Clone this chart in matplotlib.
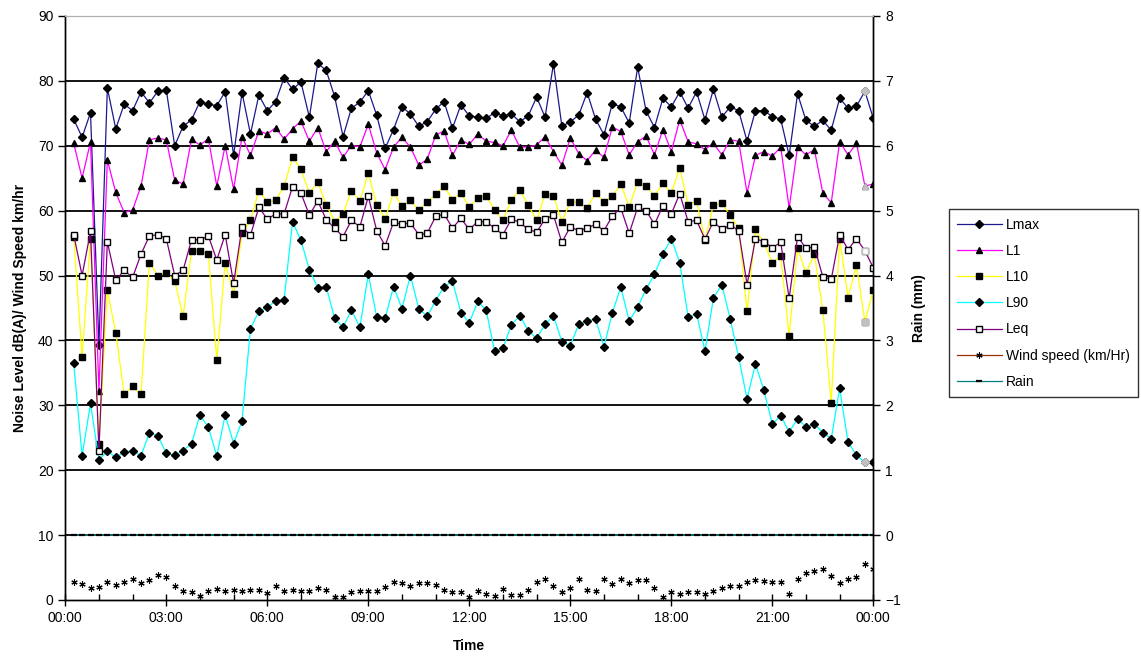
import matplotlib
matplotlib.use("Agg")
import matplotlib.pyplot as plt
from matplotlib.lines import Line2D
import numpy as np

plt.rcParams['font.family'] = ['Liberation Sans', 'DejaVu Sans']

# time in hours (15-min intervals, 00:15 .. 24:00)
hours = [0.25 * k for k in range(1, 97)]

lmax = [74.1, 71.3, 75.1, 39.3, 78.9, 72.6, 76.4, 75.4, 78.3, 76.6, 78.4, 78.6, 70.0, 73.0, 74.0, 76.8,
        76.4, 76.2, 78.3, 68.5, 78.2, 71.8, 77.8, 75.4, 76.8, 80.5, 78.7, 79.8, 74.4, 82.7, 81.6, 77.6,
        71.4, 75.8, 76.7, 78.5, 74.7, 69.6, 72.5, 76.0, 74.9, 73.0, 73.7, 75.6, 76.8, 72.7, 76.3, 74.6,
        74.4, 74.2, 75.1, 74.6, 74.9, 73.7, 74.6, 77.5, 74.4, 82.6, 73.0, 73.7, 74.7, 78.2, 74.1, 71.7,
        76.5, 76.0, 73.5, 82.1, 75.4, 72.8, 77.3, 76.0, 78.3, 75.8, 78.3, 74.0, 78.7, 74.4, 76.0, 75.4,
        70.7, 75.4, 75.4, 74.5, 74.1, 68.5, 78.0, 73.9, 73.0, 73.9, 72.4, 77.3, 75.8, 76.1, 78.4, 74.2]

l1 = [70.4, 65.0, 70.6, 32.2, 67.8, 62.8, 59.7, 60.1, 63.8, 70.9, 71.2, 70.9, 64.7, 64.1, 71.0, 70.1,
      71.1, 63.8, 70.0, 63.3, 71.4, 68.5, 72.3, 71.8, 72.8, 71.0, 72.6, 73.8, 70.7, 72.8, 69.1, 70.7,
      68.2, 70.1, 69.8, 73.3, 68.9, 66.3, 69.8, 71.3, 69.8, 67.0, 67.9, 71.6, 72.3, 68.5, 70.9, 70.2,
      71.8, 70.7, 70.5, 70.0, 72.4, 69.8, 69.8, 70.1, 71.4, 69.1, 67.0, 71.2, 68.8, 67.7, 69.3, 68.2,
      72.9, 72.2, 68.6, 70.6, 71.5, 68.6, 72.5, 69.1, 74.0, 70.6, 70.3, 69.4, 70.4, 68.6, 70.9, 70.7,
      62.7, 68.5, 69.1, 68.4, 69.8, 60.4, 69.8, 68.6, 69.4, 62.7, 61.2, 70.6, 68.6, 70.4, 63.8, 64.1]

l10 = [56.0, 37.5, 55.7, 24.0, 47.7, 41.2, 31.7, 32.9, 31.7, 52.0, 50.0, 50.4, 49.2, 43.7, 53.8, 53.8,
       53.3, 37.0, 52.0, 47.1, 56.5, 58.5, 63.1, 61.3, 61.6, 63.8, 68.2, 66.4, 62.7, 64.4, 60.9, 58.3,
       59.5, 63.1, 61.5, 65.8, 60.9, 58.7, 62.8, 60.7, 61.6, 60.1, 61.3, 62.5, 63.8, 61.7, 62.7, 60.6,
       61.9, 62.3, 60.1, 58.5, 61.7, 63.2, 60.8, 58.5, 62.5, 62.3, 58.3, 61.3, 61.3, 60.4, 62.7, 61.3,
       62.2, 64.1, 60.6, 64.4, 63.8, 62.3, 64.2, 62.7, 66.6, 60.9, 61.5, 55.4, 60.9, 61.1, 59.3, 57.3,
       44.5, 57.1, 55.0, 52.0, 53.0, 40.7, 54.2, 50.4, 53.3, 44.7, 30.4, 55.7, 46.6, 51.6, 42.9, 47.7]

l90 = [36.5, 22.2, 30.3, 21.6, 22.9, 22.0, 22.8, 23.0, 22.2, 25.8, 25.3, 22.6, 22.3, 23.0, 24.1, 28.5,
       26.6, 22.2, 28.5, 24.1, 27.6, 41.8, 44.5, 45.1, 46.1, 46.3, 58.3, 55.4, 50.9, 48.1, 48.3, 43.4,
       42.0, 44.7, 42.0, 50.2, 43.6, 43.4, 48.3, 44.9, 50.0, 44.9, 43.7, 46.1, 48.3, 49.1, 44.3, 42.7,
       46.0, 44.7, 38.4, 38.8, 42.4, 43.8, 41.5, 40.3, 42.5, 43.8, 39.8, 39.2, 42.5, 43.0, 43.3, 39.0,
       44.3, 48.2, 43.0, 45.1, 47.9, 50.2, 53.3, 55.7, 52.0, 43.6, 44.1, 38.4, 46.5, 48.6, 43.3, 37.4,
       31.0, 36.4, 32.3, 27.1, 28.4, 25.9, 27.9, 26.7, 27.1, 25.8, 24.8, 32.6, 24.3, 22.3, 21.2, 21.2]

leq = [56.3, 50.0, 56.8, 23.0, 55.2, 49.3, 50.8, 49.7, 53.3, 56.1, 56.3, 55.7, 50.0, 50.8, 55.5, 55.5,
       56.1, 52.4, 56.3, 48.8, 57.5, 56.2, 60.5, 58.7, 59.5, 59.5, 63.7, 62.7, 59.3, 61.5, 58.6, 57.3,
       56.0, 58.5, 57.5, 62.2, 56.9, 54.6, 58.2, 57.9, 58.1, 56.3, 56.5, 59.1, 59.5, 57.3, 58.8, 57.1,
       58.3, 58.3, 57.3, 56.3, 58.7, 58.2, 57.1, 56.7, 58.7, 59.3, 55.1, 57.5, 56.9, 57.3, 57.9, 56.9,
       59.2, 60.4, 56.5, 60.5, 60.0, 57.9, 60.7, 59.5, 62.6, 58.3, 58.5, 55.6, 58.3, 57.1, 57.8, 56.9,
       48.6, 55.7, 55.2, 54.3, 55.1, 46.5, 56.0, 54.2, 54.4, 49.8, 49.4, 56.3, 54.0, 55.7, 53.8, 51.2]

wind = [2.8, 2.5, 1.9, 2.0, 2.7, 2.3, 2.7, 3.2, 2.6, 3.1, 3.9, 3.5, 2.2, 1.4, 1.3, 0.6,
        1.4, 1.7, 1.4, 1.5, 1.4, 1.5, 1.5, 1.0, 2.2, 1.4, 1.5, 1.4, 1.4, 1.8, 1.5, 0.4,
        0.5, 1.3, 1.4, 1.4, 1.4, 2.0, 2.7, 2.6, 2.2, 2.6, 2.6, 2.3, 1.5, 1.3, 1.3, 0.5,
        1.4, 0.9, 0.6, 1.7, 0.8, 0.8, 1.5, 2.8, 3.2, 2.2, 1.3, 1.8, 3.2, 1.5, 1.4, 3.3,
        2.4, 3.3, 2.6, 3.1, 3.1, 1.9, 0.4, 1.3, 0.9, 1.3, 1.3, 0.9, 1.4, 1.8, 2.1, 2.1,
        2.8, 3.1, 2.9, 2.8, 2.7, 0.9, 3.3, 4.1, 4.5, 4.7, 3.7, 2.6, 3.3, 3.6, 5.5, 4.7]

rain = [0.0] * 96

tick_hours = [0, 3, 6, 9, 12, 15, 18, 21, 24]
tick_labels = ["00:00", "03:00", "06:00", "09:00", "12:00", "15:00", "18:00", "21:00", "00:00"]

GRAY = "#c0c0c0"

fig = plt.figure(figsize=(11.41, 6.62), dpi=100)
ax = fig.add_axes([0.0572, 0.0937, 0.7082, 0.8822])
ax2 = ax.twinx()

ax.set_xlim(0, 24)
ax.set_ylim(0, 90)
ax2.set_ylim(-1, 8)

for yv in range(10, 90, 10):
    ax.axhline(yv, color="black", lw=1.3, zorder=1)

lw = 0.9
series = [
    (lmax, "Lmax", "#1a1a8c", "D", 4.0, "black", "black"),
    (l1, "L1", "#ff00ff", "^", 5.0, "black", "black"),
    (l10, "L10", "#ffff00", "s", 4.3, "black", "black"),
    (l90, "L90", "#00ffff", "D", 4.0, "black", "black"),
    (leq, "Leq", "#800080", "s", 4.3, "white", "black"),
]
handles = []
for i, (vals, name, col, mk, ms, mfc, mec) in enumerate(series):
    ax.plot(hours, vals, color=col, lw=lw, marker=mk, ms=ms, mfc=mfc, mec=mec,
            mew=1.0, zorder=3 + i)
    # highlighted (grey) point at 23:45
    if mfc == "white":
        ax.plot(hours[94], vals[94], marker=mk, ms=ms, mfc="white", mec=GRAY,
                mew=1.0, ls="none", zorder=3 + i + 0.5)
    else:
        ax.plot(hours[94], vals[94], marker=mk, ms=ms, mfc=GRAY, mec=GRAY,
                ls="none", zorder=3 + i + 0.5)
    handles.append(Line2D([], [], color=col, lw=lw, marker=mk, ms=ms,
                          mfc=mfc, mec=mec, label=name))

ax.plot(hours, wind, ls="none", marker=(6, 2, 0), ms=4.5, mec="black",
        mew=0.8, zorder=9)
handles.append(Line2D([], [], color="#993300", lw=lw, marker=(6, 2, 0), ms=4.5,
                      mec="black", mew=0.8, label="Wind speed (km/Hr)"))

ax2.plot(hours, rain, color="#008080", lw=1.2, marker="_", ms=3.8, mec="black",
         mew=1.6, zorder=10)
handles.append(Line2D([], [], color="#008080", lw=lw, marker="_", ms=4,
                      mec="black", mew=1.6, label="Rain"))

ax.set_xticks(tick_hours)
ax.set_xticklabels(tick_labels)
ax.set_xticks(np.arange(0, 25, 1), minor=True)
ax.set_yticks(range(0, 91, 10))
ax2.set_yticks(range(-1, 9, 1))

ax.tick_params(axis="x", which="major", direction="inout", length=8, width=1,
               labelsize=10, pad=4)
ax.tick_params(axis="x", which="minor", direction="in", length=4, width=1)
ax.tick_params(axis="y", direction="out", length=5, width=1, labelsize=10)
ax2.tick_params(axis="y", direction="out", length=5, width=1, labelsize=10)

for a in (ax, ax2):
    a.spines["top"].set_color("#b0b0b0")
    a.spines["top"].set_linewidth(0.8)
    for s in ("left", "right", "bottom"):
        a.spines[s].set_color("black")
        a.spines[s].set_linewidth(1.0)
ax.set_facecolor("white")

ax.set_ylabel("Noise Level dB(A)/ Wind Speed km/hr", fontsize=10, fontweight="bold",
              labelpad=8)
ax2.set_ylabel("Rain (mm)", fontsize=10, fontweight="bold", labelpad=8)
ax.set_xlabel("Time", fontsize=10, fontweight="bold", labelpad=10)

leg = fig.legend(handles=handles, loc="upper left", bbox_to_anchor=(0.8315, 0.684),
                 frameon=True, fancybox=False, edgecolor="black", fontsize=10,
                 handlelength=3.2, handletextpad=0.3, labelspacing=0.88,
                 borderpad=0.6, borderaxespad=0)
leg.get_frame().set_linewidth(1.0)

fig.savefig("out.png", dpi=100)
